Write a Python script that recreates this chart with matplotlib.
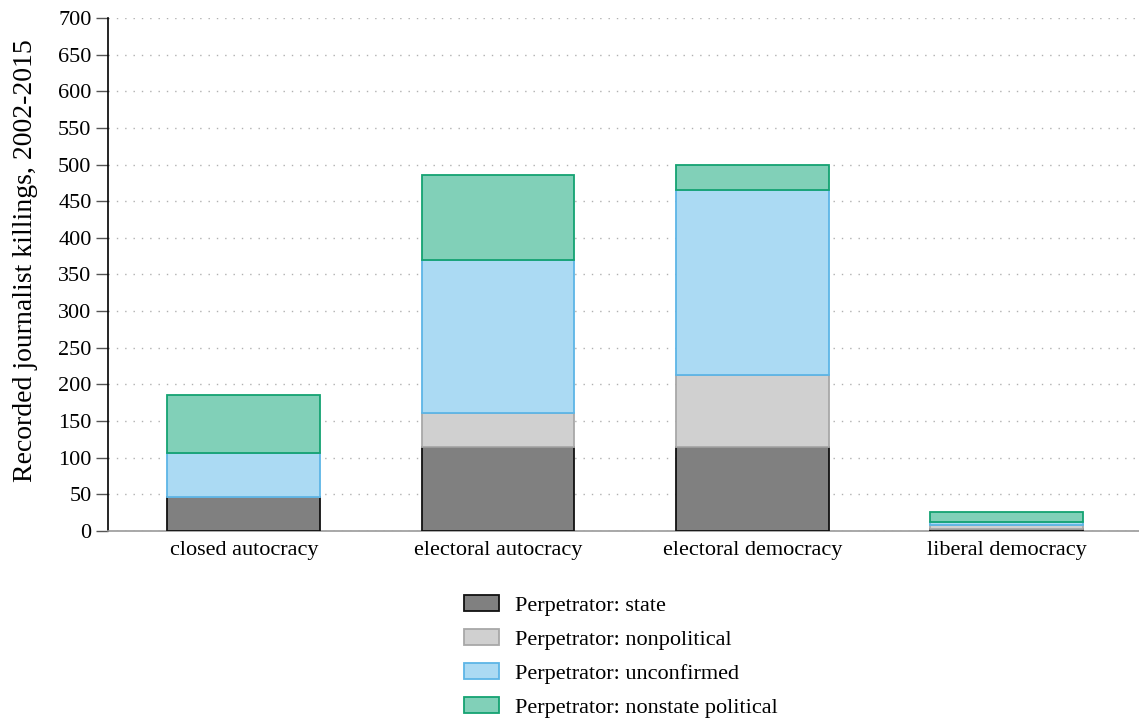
import matplotlib
matplotlib.use("Agg")
import matplotlib.pyplot as plt
import numpy as np
from matplotlib.patches import Patch

plt.rcParams["font.family"] = ["Liberation Serif", "DejaVu Serif"]

# regime categories on the x axis
regimes = ["closed autocracy", "electoral autocracy", "electoral democracy", "liberal democracy"]

# stacked series, bottom to top
state = [46, 115, 114, 3]
nonpolitical = [1, 46, 99, 5]
unconfirmed = [59, 209, 252, 5]
nonstate_political = [79, 116, 35, 13]

series = [
    ("Perpetrator: state", state, "#808080", "#111111"),
    ("Perpetrator: nonpolitical", nonpolitical, "#d0d0d0", "#a8a8a8"),
    ("Perpetrator: unconfirmed", unconfirmed, "#abdaf3", "#5db5e6"),
    ("Perpetrator: nonstate political", nonstate_political, "#81d0b8", "#14a272"),
]

fig = plt.figure(figsize=(11.39, 7.18), dpi=100)
ax = fig.add_axes([0.095, 0.2604, 0.905, 0.7146])

x = np.arange(len(regimes))
bottom = np.zeros(len(regimes))
handles = []
for label, vals, face, edge in series:
    ax.bar(x, vals, width=0.6, bottom=bottom, color=face, edgecolor=edge,
           linewidth=1.3, zorder=3)
    bottom += np.array(vals)
    handles.append(Patch(facecolor=face, edgecolor=edge, linewidth=1.3, label=label))

ax.set_xlim(-0.533, 3.52)
ax.set_ylim(0, 700)
ax.set_yticks(range(0, 701, 50))
ax.set_xticks(x)
ax.set_xticklabels(regimes, fontsize=16)
ax.tick_params(axis="x", length=0, pad=7)
ax.tick_params(axis="y", labelsize=16, length=9, color="#555555", width=1, pad=3)
ax.set_ylabel("Recorded journalist killings, 2002-2015", fontsize=20)
ax.yaxis.set_label_coords(-0.068, 0.528)

ax.grid(axis="y", linestyle=(0, (1, 5)), color="#b0b0b0", linewidth=1, zorder=0)
ax.spines["top"].set_visible(False)
ax.spines["right"].set_visible(False)
ax.spines["left"].set_color("black")
ax.spines["left"].set_linewidth(1.2)
ax.spines["bottom"].set_color("#999999")
ax.spines["bottom"].set_linewidth(1.2)

fig.legend(handles=handles, loc="upper left", bbox_to_anchor=(0.407, 0.171),
           frameon=False, fontsize=16, ncol=1, handlelength=1.58, handleheight=0.75,
           labelspacing=0.59, handletextpad=0.72, borderaxespad=0, borderpad=0)

fig.savefig("out.png", dpi=100)
